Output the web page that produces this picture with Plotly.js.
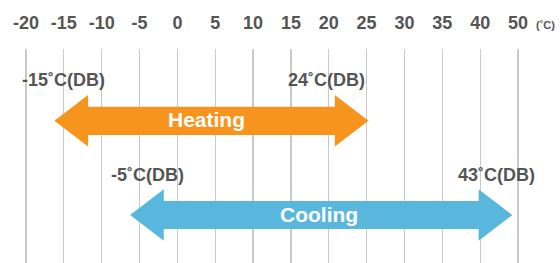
<!DOCTYPE html>
<html>
<head>
<meta charset="utf-8">
<script src="https://cdn.plot.ly/plotly-3.0.1.min.js"></script>
<style>html,body{margin:0;padding:0;background:#fff;}#chart{width:560px;height:263px;}</style>
</head>
<body>
<div id="chart"></div>
<script>
// Data
var tickPositions = [-20, -15, -10, -5, 0, 5, 10, 15, 20, 25, 30, 35, 40, 45];
var tickLabels = ["-20", "-15", "-10", "-5", "0", "5", "10", "15", "20", "25", "30", "35", "40", "50"];
var modes = ["Heating", "Cooling"];
var rangeMin = [-15, -5];
var rangeMax = [24, 43];
var unitLabel = "(˚C)";

// Styling
var colors = ["#F7941D", "#59B7DE"];
var rowY = [120.8, 215];
var tipOff = 1.25, headLen = 4.45, shaftH = 14.1, headH = 25.7;
var textColor = "#555555";
var fontFam = "'Liberation Sans', Arial, Helvetica, sans-serif";

var traces = [];
var annotations = [];
// label x shifts (px) to match reference placement
var loShift = [0, 8];
var hiShift = [-33, -6];
for (var i = 0; i < modes.length; i++) {
  var a = rangeMin[i] - tipOff, b = rangeMax[i] + tipOff, c = rowY[i];
  var xs = [a, a + headLen, a + headLen, b - headLen, b - headLen, b, b - headLen, b - headLen, a + headLen, a + headLen, a];
  var ys = [c, c - headH, c - shaftH, c - shaftH, c - headH, c, c + headH, c + shaftH, c + shaftH, c + headH, c];
  traces.push({
    x: xs, y: ys, type: "scatter", mode: "lines", fill: "toself",
    fillcolor: colors[i], line: {color: colors[i], width: 0}, hoverinfo: "skip", showlegend: false
  });
  annotations.push({
    x: (rangeMin[i] + rangeMax[i]) / 2, y: c, xref: "x", yref: "y", text: "<b>" + modes[i] + "</b>",
    showarrow: false, xshift: i === 0 ? -5 : -2, yshift: 1,
    font: {family: fontFam, size: 21, color: "#ffffff"}
  });
  annotations.push({
    x: rangeMin[i], y: c - 40.5, xref: "x", yref: "y", text: "<b>" + rangeMin[i] + "˚C(DB)</b>",
    showarrow: false, xshift: loShift[i], font: {family: fontFam, size: 18, color: textColor}
  });
  annotations.push({
    x: rangeMax[i], y: c - 40.5, xref: "x", yref: "y", text: "<b>" + rangeMax[i] + "˚C(DB)</b>",
    showarrow: false, xshift: hiShift[i], font: {family: fontFam, size: 18, color: textColor}
  });
}
annotations.push({
  x: 1, y: 1, xref: "paper", yref: "paper", xanchor: "right", yanchor: "middle",
  yshift: 0, text: "<b>" + unitLabel + "</b>", showarrow: false,
  font: {family: fontFam, size: 11, color: textColor}
});
// move unit label to tick-label row (above plot area)
annotations[annotations.length - 1].yshift = 24;
annotations[annotations.length - 1].xshift = -3;

var layout = {
  width: 560, height: 263,
  margin: {l: 0, r: 0, t: 49, b: 0, pad: 0},
  paper_bgcolor: "#ffffff", plot_bgcolor: "#ffffff",
  showlegend: false,
  xaxis: {
    side: "top", range: [-23.435, 50.55], fixedrange: true,
    tickmode: "array", tickvals: tickPositions, ticktext: tickLabels,
    showgrid: true, gridcolor: "#c9c9c9", gridwidth: 1.2,
    zeroline: false, showline: false, ticks: "",
    ticklabelstandoff: 15,
    tickfont: {family: fontFam, size: 18, color: textColor, weight: "bold"}
  },
  yaxis: {
    range: [263, 49], fixedrange: true, showgrid: false, zeroline: false,
    showticklabels: false, showline: false, ticks: ""
  },
  annotations: annotations
};

Plotly.newPlot("chart", traces, layout, {staticPlot: true, displayModeBar: false});
</script>
</body>
</html>
